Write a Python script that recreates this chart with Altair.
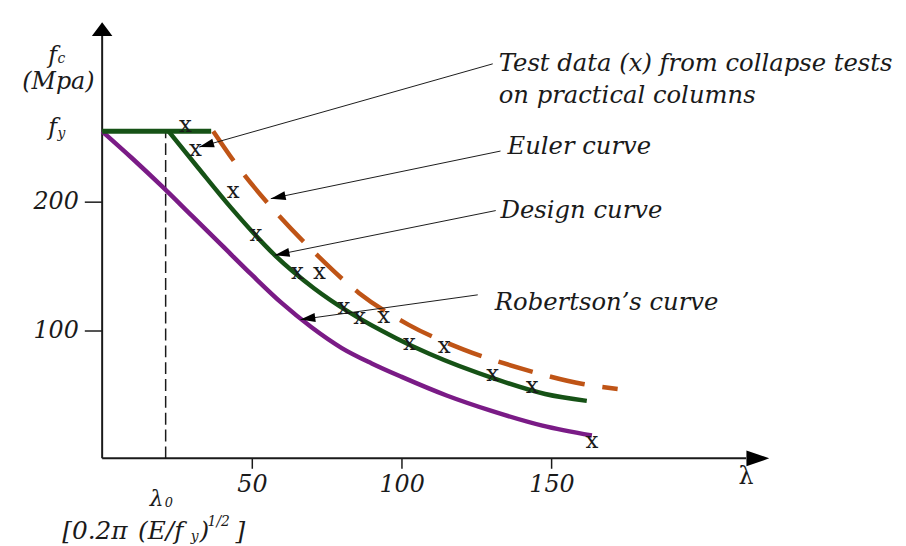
import math
import altair as alt
import pandas as pd

# ---------------- data (lambda = slenderness, f = stress MPa) ----------------
FY = 255
LAMBDA0 = 21.2

robertson_lam = [0, 10, 20, 30, 40, 50, 60, 70, 80, 90, 100, 115, 130, 147, 163.5]
robertson_f = [255, 234, 212, 189, 166, 143, 121, 102, 86, 74, 63.5, 49, 37, 25.5, 17.8]

plateau_lam = [0, 36.4]
plateau_f = [FY, FY]

design_lam = [22.2, 32.1, 43.0, 57.6, 70.8, 82.7, 98.3, 109.2, 131.4, 147.9, 161.8]
design_f = [255, 226.4, 195.5, 158.5, 132.5, 113.6, 93.5, 81.5, 61.8, 50.2, 44.8]

euler_lam = [37.1, 44.7, 56.9, 70.8, 85.7, 102.2, 120.5, 140.6, 160.5, 172.1]
euler_f = [255, 229.5, 194.7, 160.7, 129, 104.3, 85, 69.6, 58, 54.1]

test_lam = [27.8, 31.1, 43.7, 51.3, 65.2, 72.5, 80.7, 86.0, 94.0, 102.6, 114.2, 130.4, 143.6, 163.5]
test_f = [259.7, 241.1, 208.7, 174.7, 145.3, 145.3, 118.2, 110.5, 111.3, 89.6, 87.3, 65.7, 56.4, 13.1]

x_ticks = [50, 100, 150]
y_ticks = [100, 200]

# annotation texts and their leader lines (start at text, tip at curve)
ann_text = ["Test data (x) from collapse tests", "on practical columns",
            "Euler curve", "Design curve", "Robertson\u2019s curve"]
ann_lam = [132.4, 132.4, 135.3, 133.0, 131.1]
ann_f = [307.6, 282.1, 242.5, 193.2, 121.3]

lead_lam = [130.4, 133.0, 131.4, 125.4]
lead_f = [307.6, 239.6, 193.2, 127.5]
tip_lam = [32.4, 56.3, 57.6, 66.2]
tip_f = [242.7, 202.5, 158.4, 108.2]

# ---------------- layout ----------------
W, H = 680, 440
XMAX, YMAX = 225, 340
SX, SY = W / XMAX, H / YMAX
FONT = "DejaVu Serif"
INK = "#1a1a1a"

x_scale = alt.Scale(domain=[0, XMAX], nice=False, zero=False)
y_scale = alt.Scale(domain=[0, YMAX], nice=False, zero=False)
x_axis = alt.Axis(values=x_ticks, title=None, domain=False, grid=False, tickSize=10, tickWidth=1.5,
                  tickColor=INK, labelFont=FONT, labelFontStyle="italic", labelFontSize=24,
                  labelColor=INK, labelPadding=4, labelFlush=False, labelOverlap=False)
y_axis = alt.Axis(values=y_ticks, title=None, domain=False, grid=False, tickSize=18, tickWidth=1.5,
                  tickColor=INK, labelFont=FONT, labelFontStyle="italic", labelFontSize=24,
                  labelColor=INK, labelPadding=6, labelFlush=False, labelOverlap=False)


def X(f="lam"):
    return alt.X(f"{f}:Q", scale=x_scale, axis=x_axis)


def Y(f="f"):
    return alt.Y(f"{f}:Q", scale=y_scale, axis=y_axis)


def curve(lam, f, color, width=4.5, dash=None, interp="monotone"):
    df = pd.DataFrame({"lam": lam, "f": f, "o": range(len(lam))})
    kw = dict(color=color, strokeWidth=width, strokeCap="butt", clip=False, interpolate=interp)
    if dash:
        kw["strokeDash"] = dash
    return alt.Chart(df).mark_line(**kw).encode(x=X(), y=Y(), order="o:Q")


def text(lam, f, txt, size, align="left", style="italic", font=FONT, dy=0):
    df = pd.DataFrame({"lam": lam, "f": f, "t": txt})
    return alt.Chart(df).mark_text(align=align, baseline="middle", font=font, fontStyle=style,
                                   fontSize=size, color=INK, dy=dy).encode(x=X(), y=Y(), text="t:N")


layers = []

# axes lines with arrow heads
layers.append(alt.Chart(pd.DataFrame({"lam": [0], "f": [0], "f2": [330.0]})).mark_rule(
    color=INK, strokeWidth=2).encode(x=X(), y=Y(), y2="f2:Q"))
layers.append(alt.Chart(pd.DataFrame({"lam": [0], "lam2": [215.0], "f": [0]})).mark_rule(
    color=INK, strokeWidth=2).encode(x=X(), x2="lam2:Q", y=Y()))
layers.append(alt.Chart(pd.DataFrame({"lam": [0], "f": [YMAX]})).mark_point(
    shape="M0,0L-1.5,2L1.5,2Z", size=190, filled=True, color="black", opacity=1, strokeWidth=0
).encode(x=X(), y=Y()))
layers.append(alt.Chart(pd.DataFrame({"lam": [222.7], "f": [0]})).mark_point(
    shape="M0,0L-2,-0.7L-2,0.7Z", size=529, filled=True, color="black", opacity=1, strokeWidth=0
).encode(x=X(), y=Y()))

# lambda0 dashed line
layers.append(alt.Chart(pd.DataFrame({"lam": [LAMBDA0], "f": [0], "f2": [FY]})).mark_rule(
    color=INK, strokeWidth=1.5, strokeDash=[12, 5]).encode(x=X(), y=Y(), y2="f2:Q"))

# curves
layers.append(curve(robertson_lam, robertson_f, "#7a1b86", 4.5))
layers.append(curve(euler_lam, euler_f, "#bf5416", 4.5, dash=[36, 18]))
layers.append(curve(plateau_lam, plateau_f, "#165216", 5, interp="linear"))
layers.append(curve(design_lam, design_f, "#165216", 4.5))

# test data markers
layers.append(text(test_lam, test_f, ["x"] * len(test_lam), 23, align="center", style="normal"))

# leader lines and arrowheads
lead = pd.DataFrame({"lam": lead_lam, "f": lead_f, "lam2": tip_lam, "f2": tip_f})
layers.append(alt.Chart(lead).mark_rule(color=INK, strokeWidth=1).encode(
    x=X(), y=Y(), x2="lam2:Q", y2="f2:Q"))
angles = [math.degrees(math.atan2(-(tf - sf) * SY, (tl - sl) * SX)) % 360
          for sl, sf, tl, tf in zip(lead_lam, lead_f, tip_lam, tip_f)]
heads = pd.DataFrame({"lam": tip_lam, "f": tip_f, "ang": angles})
layers.append(alt.Chart(heads).mark_point(
    shape="M0,0L-2,-0.6L-2,0.6Z", size=225, filled=True, color="black", opacity=1, strokeWidth=0
).encode(x=X(), y=Y(), angle=alt.Angle("ang:Q", scale=None)))

# annotation texts
layers.append(text(ann_lam, ann_f, ann_text, 24.5))

# axis titles / symbols
layers.append(text([-16.5, -16.5], [313.8, 257.3], ["f", "f"], 24, align="center"))
layers.append(text([-13.6, -13.6], [311.5, 253.0], ["c", "y"], 14, align="center"))
layers.append(text([-14.6], [293.7], ["(Mpa)"], 24, align="center"))
layers.append(text([215.0], [-13.1], ["\u03bb"], 24, align="center", style="normal", dy=2))
layers.append(text([18.2], [-32.0], ["\u03bb"], 22, align="center"))
layers.append(text([22.3], [-34.5], ["0"], 13, align="center"))
layers.append(text([-13.3], [-57.0], ["[0.2\u03c0"], 25, align="left"))
layers.append(text([12.0], [-57.0], ["(E/f"], 25, align="left"))
layers.append(text([29.6], [-61.0], ["y"], 14, align="left"))
layers.append(text([32.5], [-57.0], [")"], 25, align="left"))
layers.append(text([35.2], [-49.5], ["1/2"], 14, align="left"))
layers.append(text([44.5], [-57.0], ["]"], 25, align="left"))

chart = alt.layer(*layers).properties(
    width=W, height=H,
    autosize=alt.AutoSizeParams(type="none"),
    padding={"left": 95, "top": 12, "right": 123, "bottom": 84},
    background="white",
).configure_view(stroke=None)

chart.save("out.html", embed_options={"renderer": "svg", "actions": False})
